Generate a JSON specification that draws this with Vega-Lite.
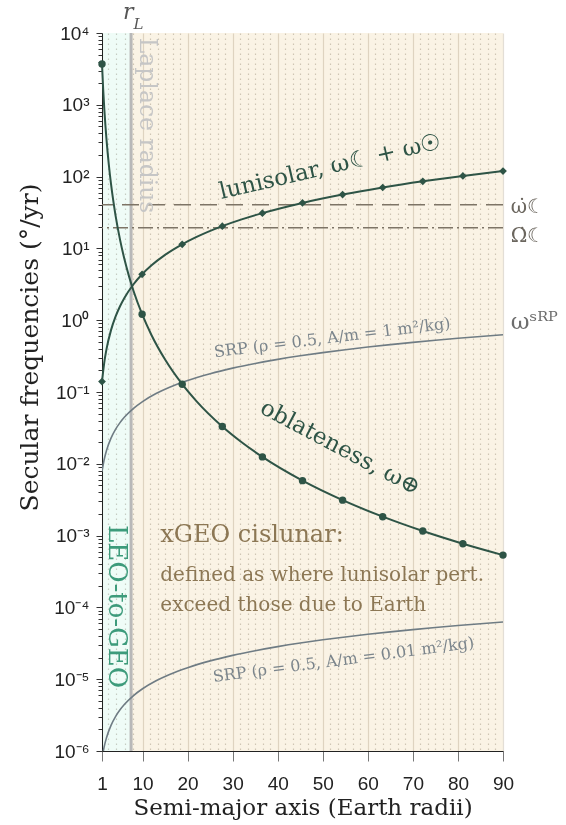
{
  "$schema": "https://vega.github.io/schema/vega-lite/v6.json",
  "width": 401,
  "height": 718,
  "autosize": {"type": "none"},
  "padding": {"left": 102, "top": 33, "right": 63, "bottom": 74},
  "background": "white",
  "config": {"view": {"stroke": null}, "font": "DejaVu Serif"},
  "datasets": {
    "regions": [
      {"a": 1, "a2": 7.45, "region": "LEO-to-GEO"},
      {"a": 7.45, "a2": 90, "region": "xGEO"}
    ],
    "obl": [
      {"a": 1, "f": 3700}, {"a": 1.25, "f": 1694}, {"a": 1.5, "f": 895}, {"a": 1.75, "f": 521.9},
      {"a": 2, "f": 327}, {"a": 2.5, "f": 149.8}, {"a": 3, "f": 79.1}, {"a": 3.5, "f": 46.13},
      {"a": 4, "f": 28.91}, {"a": 5, "f": 13.24}, {"a": 6, "f": 6.993}, {"a": 7, "f": 4.077},
      {"a": 8, "f": 2.555}, {"a": 9.9, "f": 1.212}, {"a": 12, "f": 0.6182}, {"a": 15, "f": 0.283},
      {"a": 18.8, "f": 0.1284}, {"a": 22, "f": 0.07409}, {"a": 27.7, "f": 0.03307}, {"a": 32, "f": 0.01996},
      {"a": 36.6, "f": 0.01247}, {"a": 45.5, "f": 0.005823}, {"a": 54.4, "f": 0.003116}, {"a": 63.3, "f": 0.001834},
      {"a": 72.2, "f": 0.001157}, {"a": 81.1, "f": 0.0007701}, {"a": 90, "f": 0.0005352}
    ],
    "oblm": [
      {"a": 1, "f": 3700}, {"a": 9.9, "f": 1.212}, {"a": 18.8, "f": 0.1284}, {"a": 27.7, "f": 0.03307},
      {"a": 36.6, "f": 0.01247}, {"a": 45.5, "f": 0.005823}, {"a": 54.4, "f": 0.003116}, {"a": 63.3, "f": 0.001834},
      {"a": 72.2, "f": 0.001157}, {"a": 81.1, "f": 0.0007701}, {"a": 90, "f": 0.0005352}
    ],
    "lun": [
      {"a": 1, "f": 0.14}, {"a": 1.5, "f": 0.2572}, {"a": 2, "f": 0.396}, {"a": 3, "f": 0.7273},
      {"a": 4, "f": 1.12}, {"a": 5, "f": 1.565}, {"a": 6, "f": 2.057}, {"a": 8, "f": 3.168},
      {"a": 9.9, "f": 4.361}, {"a": 12, "f": 5.821}, {"a": 15, "f": 8.133}, {"a": 18.8, "f": 11.41},
      {"a": 22, "f": 14.44}, {"a": 27.7, "f": 20.41}, {"a": 32, "f": 25.34}, {"a": 36.6, "f": 30.99},
      {"a": 45.5, "f": 42.97}, {"a": 54.4, "f": 56.17}, {"a": 63.3, "f": 70.5}, {"a": 72.2, "f": 85.9},
      {"a": 81.1, "f": 102.2}, {"a": 90, "f": 119.5}
    ],
    "lunm": [
      {"a": 1, "f": 0.14}, {"a": 9.9, "f": 4.361}, {"a": 18.8, "f": 11.41}, {"a": 27.7, "f": 20.41},
      {"a": 36.6, "f": 30.99}, {"a": 45.5, "f": 42.97}, {"a": 54.4, "f": 56.17}, {"a": 63.3, "f": 70.5},
      {"a": 72.2, "f": 85.9}, {"a": 81.1, "f": 102.2}, {"a": 90, "f": 119.5}
    ],
    "srp1": [
      {"a": 1, "f": 0.0078}, {"a": 1.5, "f": 0.01158}, {"a": 2, "f": 0.01533}, {"a": 3, "f": 0.02276},
      {"a": 4, "f": 0.03013}, {"a": 5, "f": 0.03746}, {"a": 6, "f": 0.04474}, {"a": 8, "f": 0.05923},
      {"a": 10, "f": 0.07362}, {"a": 13, "f": 0.09507}, {"a": 16, "f": 0.1164}, {"a": 20, "f": 0.1447},
      {"a": 25, "f": 0.1799}, {"a": 30, "f": 0.2149}, {"a": 35, "f": 0.2497}, {"a": 40, "f": 0.2844},
      {"a": 45, "f": 0.319}, {"a": 50, "f": 0.3535}, {"a": 55, "f": 0.388}, {"a": 60, "f": 0.4223},
      {"a": 65, "f": 0.4566}, {"a": 70, "f": 0.4909}, {"a": 75, "f": 0.5251}, {"a": 80, "f": 0.5593},
      {"a": 85, "f": 0.5932}, {"a": 90, "f": 0.627}
    ],
    "srp2": [
      {"a": 1, "f": 7.8e-7}, {"a": 1.5, "f": 1.158e-6}, {"a": 2, "f": 1.533e-6}, {"a": 3, "f": 2.276e-6},
      {"a": 4, "f": 3.013e-6}, {"a": 5, "f": 3.746e-6}, {"a": 6, "f": 4.474e-6}, {"a": 8, "f": 5.923e-6},
      {"a": 10, "f": 7.362e-6}, {"a": 13, "f": 9.507e-6}, {"a": 16, "f": 1.164e-5}, {"a": 20, "f": 1.447e-5},
      {"a": 25, "f": 1.799e-5}, {"a": 30, "f": 2.149e-5}, {"a": 35, "f": 2.497e-5}, {"a": 40, "f": 2.844e-5},
      {"a": 45, "f": 3.19e-5}, {"a": 50, "f": 3.535e-5}, {"a": 55, "f": 3.88e-5}, {"a": 60, "f": 4.223e-5},
      {"a": 65, "f": 4.566e-5}, {"a": 70, "f": 4.909e-5}, {"a": 75, "f": 5.251e-5}, {"a": 80, "f": 5.593e-5},
      {"a": 85, "f": 5.932e-5}, {"a": 90, "f": 6.27e-5}
    ]
  },
  "layer": [
    {
      "data": {"name": "regions"},
      "mark": {"type": "rect", "blend": "multiply"},
      "encoding": {
        "x": {
          "field": "a", "type": "quantitative",
          "scale": {"domain": [1, 90], "nice": false, "zero": false},
          "axis": {
            "title": "Semi-major axis (Earth radii)",
            "titleFont": "DejaVu Serif", "titleFontSize": 23, "titleFontWeight": "normal", "titleColor": "#222", "titlePadding": 3,
            "tickCount": 500,
            "values": [1, 2.33, 4.17, 6, 7.83, 10, 11.67, 13.33, 15, 16.67, 18.33, 20, 21.67, 23.33, 25, 26.67, 28.33, 30, 31.67, 33.33, 35, 36.67, 38.33, 40, 41.67, 43.33, 45, 46.67, 48.33, 50, 51.67, 53.33, 55, 56.67, 58.33, 60, 61.67, 63.33, 65, 66.67, 68.33, 70, 71.67, 73.33, 75, 76.67, 78.33, 80, 81.67, 83.33, 85, 86.67, 88.33, 90],
            "labelExpr": "(datum.value == 1 || abs(datum.value - 10*round(datum.value/10)) < 0.01) ? format(datum.value, 'd') : ''",
            "labelFont": "Liberation Sans", "labelFontSize": 19, "labelColor": "#222", "labelPadding": 13, "labelOverlap": false, "labelFlush": false,
            "domainColor": "#222", "domainWidth": 1,
            "tickColor": "#777", "tickWidth": 1,
            "tickSize": {"condition": {"test": "datum.value == 1 || abs(datum.value - 10*round(datum.value/10)) < 0.01", "value": 10}, "value": 0},
            "gridColor": {"condition": {"test": "datum.value == 1 || abs(datum.value - 10*round(datum.value/10)) < 0.01", "value": "#e3ded6"}, "value": "#d3cfc9"},
            "gridDash": {"condition": {"test": "datum.value == 1 || abs(datum.value - 10*round(datum.value/10)) < 0.01", "value": []}, "value": [1.5, 3.5]},
            "gridWidth": 1.2,
            "zindex": 0
          }
        },
        "x2": {"field": "a2"},
        "y": {
          "datum": 1e-6, "type": "quantitative",
          "scale": {"type": "log", "domain": [1e-6, 10000], "nice": false},
          "axis": {
            "title": "Secular frequencies (°/yr)",
            "titleFont": "DejaVu Serif", "titleFontSize": 25, "titleFontWeight": "normal", "titleColor": "#222",
            "titleX": -73, "titleY": 314, "titleAngle": -90, "titleAlign": "center", "titleBaseline": "middle",
            "tickCount": 500,
            "values": [1e-6, 2e-6, 3e-6, 4e-6, 5e-6, 6e-6, 7e-6, 8e-6, 9e-6,
                       1e-5, 2e-5, 3e-5, 4e-5, 5e-5, 6e-5, 7e-5, 8e-5, 9e-5,
                       1e-4, 2e-4, 3e-4, 4e-4, 5e-4, 6e-4, 7e-4, 8e-4, 9e-4,
                       0.001, 0.002, 0.003, 0.004, 0.005, 0.006, 0.007, 0.008, 0.009,
                       0.01, 0.02, 0.03, 0.04, 0.05, 0.06, 0.07, 0.08, 0.09,
                       0.1, 0.2, 0.3, 0.4, 0.5, 0.6, 0.7, 0.8, 0.9,
                       1, 2, 3, 4, 5, 6, 7, 8, 9,
                       10, 20, 30, 40, 50, 60, 70, 80, 90,
                       100, 200, 300, 400, 500, 600, 700, 800, 900,
                       1000, 2000, 3000, 4000, 5000, 6000, 7000, 8000, 9000, 10000],
            "labelExpr": "abs(log(datum.value)/LN10 - round(log(datum.value)/LN10)) < 0.001 ? '10' + (round(log(datum.value)/LN10) < 0 ? '⁻' : '') + ['⁰','¹','²','³','⁴','⁵','⁶','⁷','⁸','⁹'][abs(round(log(datum.value)/LN10))] : ''",
            "labelFont": "Liberation Sans", "labelFontSize": 19, "labelColor": "#222", "labelPadding": 7, "labelOverlap": false, "labelFlush": false,
            "domainColor": "#222", "domainWidth": 1,
            "tickColor": "#333", "tickWidth": 1,
            "tickSize": {"condition": {"test": "abs(log(datum.value)/LN10 - round(log(datum.value)/LN10)) < 0.001", "value": 6}, "value": 4},
            "gridColor": {"condition": {"test": "abs(log(datum.value)/LN10 - round(log(datum.value)/LN10)) < 0.001", "value": "#e3ded6"}, "value": "#cfcbc5"},
            "gridDash": {"condition": {"test": "abs(log(datum.value)/LN10 - round(log(datum.value)/LN10)) < 0.001", "value": []}, "value": [1.5, 3.5]},
            "gridWidth": 1.2,
            "zindex": 0
          }
        },
        "y2": {"datum": 10000},
        "fill": {
          "field": "region", "type": "nominal",
          "scale": {"domain": ["LEO-to-GEO", "xGEO"], "range": ["#effcf7", "#faf3e5"]},
          "legend": null
        }
      }
    },
    {
      "data": {"values": [{"a": 7.45}]},
      "mark": {"type": "rule", "color": "#b8b8b8", "strokeWidth": 3},
      "encoding": {"x": {"field": "a", "type": "quantitative"}}
    },
    {
      "data": {"values": [{"f": 40.7}]},
      "mark": {"type": "rule", "color": "#7d7466", "strokeWidth": 1.5, "strokeDash": [17, 9]},
      "encoding": {"y": {"field": "f", "type": "quantitative"}}
    },
    {
      "data": {"values": [{"f": 19.35}]},
      "mark": {"type": "rule", "color": "#7d7466", "strokeWidth": 1.5, "strokeDash": [15, 4, 2, 4]},
      "encoding": {"y": {"field": "f", "type": "quantitative"}}
    },
    {
      "data": {"name": "srp1"},
      "mark": {"type": "line", "color": "#6f7c84", "strokeWidth": 1.6, "interpolate": "monotone", "clip": true},
      "encoding": {"x": {"field": "a", "type": "quantitative"}, "y": {"field": "f", "type": "quantitative"}}
    },
    {
      "data": {"name": "srp2"},
      "mark": {"type": "line", "color": "#6f7c84", "strokeWidth": 1.6, "interpolate": "monotone", "clip": true},
      "encoding": {"x": {"field": "a", "type": "quantitative"}, "y": {"field": "f", "type": "quantitative"}}
    },
    {
      "data": {"name": "obl"},
      "mark": {"type": "line", "color": "#2e5446", "strokeWidth": 2, "interpolate": "monotone"},
      "encoding": {"x": {"field": "a", "type": "quantitative"}, "y": {"field": "f", "type": "quantitative"}}
    },
    {
      "data": {"name": "lun"},
      "mark": {"type": "line", "color": "#2e5446", "strokeWidth": 2, "interpolate": "monotone"},
      "encoding": {"x": {"field": "a", "type": "quantitative"}, "y": {"field": "f", "type": "quantitative"}}
    },
    {
      "data": {"name": "oblm"},
      "mark": {"type": "point", "shape": "circle", "filled": true, "size": 55, "color": "#2e5446", "opacity": 1},
      "encoding": {"x": {"field": "a", "type": "quantitative"}, "y": {"field": "f", "type": "quantitative"}}
    },
    {
      "data": {"name": "lunm"},
      "mark": {"type": "point", "shape": "diamond", "filled": true, "size": 60, "color": "#2e5446", "opacity": 1},
      "encoding": {"x": {"field": "a", "type": "quantitative"}, "y": {"field": "f", "type": "quantitative"}}
    },
    {
      "data": {"values": [{"a": 6.84, "f": 19800, "t": "r"}]},
      "mark": {"type": "text", "font": "DejaVu Serif", "fontStyle": "italic", "fontSize": 22, "color": "#555", "align": "center", "baseline": "middle"},
      "encoding": {"x": {"field": "a", "type": "quantitative"}, "y": {"field": "f", "type": "quantitative"}, "text": {"field": "t"}}
    },
    {
      "data": {"values": [{"a": 9.1, "f": 13500, "t": "L"}]},
      "mark": {"type": "text", "font": "DejaVu Serif", "fontStyle": "italic", "fontSize": 15, "color": "#555", "align": "center", "baseline": "middle"},
      "encoding": {"x": {"field": "a", "type": "quantitative"}, "y": {"field": "f", "type": "quantitative"}, "text": {"field": "t"}}
    },
    {
      "data": {"values": [{"a": 11.05, "f": 8600, "t": "Laplace radius"}]},
      "mark": {"type": "text", "font": "DejaVu Serif", "fontSize": 23.5, "color": "#c6c6c6", "angle": 90, "align": "left", "baseline": "middle"},
      "encoding": {"x": {"field": "a", "type": "quantitative"}, "y": {"field": "f", "type": "quantitative"}, "text": {"field": "t"}}
    },
    {
      "data": {"values": [{"a": 4.4, "f": 0.00141, "t": "LEO-to-GEO"}]},
      "mark": {"type": "text", "font": "DejaVu Serif", "fontSize": 26, "color": "#3d9b7b", "angle": 90, "align": "left", "baseline": "middle"},
      "encoding": {"x": {"field": "a", "type": "quantitative"}, "y": {"field": "f", "type": "quantitative"}, "text": {"field": "t"}}
    },
    {
      "data": {"values": [{"a": 51.7, "f": 138, "t": "lunisolar, ω☾ + ω☉"}]},
      "mark": {"type": "text", "font": "DejaVu Serif", "fontSize": 23, "color": "#2e5446", "angle": -13, "align": "center", "baseline": "middle"},
      "encoding": {"x": {"field": "a", "type": "quantitative"}, "y": {"field": "f", "type": "quantitative"}, "text": {"field": "t"}}
    },
    {
      "data": {"values": [{"a": 53.9, "f": 0.0168, "t": "oblateness, ω⊕"}]},
      "mark": {"type": "text", "font": "DejaVu Serif", "fontSize": 23, "color": "#2e5446", "angle": 28, "align": "center", "baseline": "middle"},
      "encoding": {"x": {"field": "a", "type": "quantitative"}, "y": {"field": "f", "type": "quantitative"}, "text": {"field": "t"}}
    },
    {
      "data": {"values": [{"a": 52.1, "f": 0.57, "t": "SRP (ρ = 0.5, A/m = 1 m²/kg)"}]},
      "mark": {"type": "text", "font": "DejaVu Serif", "fontSize": 16, "color": "#7b858c", "angle": -7, "align": "center", "baseline": "middle"},
      "encoding": {"x": {"field": "a", "type": "quantitative"}, "y": {"field": "f", "type": "quantitative"}, "text": {"field": "t"}}
    },
    {
      "data": {"values": [{"a": 54.6, "f": 1.86e-5, "t": "SRP (ρ = 0.5, A/m = 0.01 m²/kg)"}]},
      "mark": {"type": "text", "font": "DejaVu Serif", "fontSize": 16, "color": "#7b858c", "angle": -7.5, "align": "center", "baseline": "middle"},
      "encoding": {"x": {"field": "a", "type": "quantitative"}, "y": {"field": "f", "type": "quantitative"}, "text": {"field": "t"}}
    },
    {
      "data": {"values": [{"a": 91.7, "f": 0.95, "t": "ωˢᴿᴾ"}]},
      "mark": {"type": "text", "font": "DejaVu Serif", "fontSize": 23, "color": "#6d6d6d", "align": "left", "baseline": "middle"},
      "encoding": {"x": {"field": "a", "type": "quantitative"}, "y": {"field": "f", "type": "quantitative"}, "text": {"field": "t"}}
    },
    {
      "data": {"values": [{"a": 91.7, "f": 38, "t": "ω̇☾"}, {"a": 91.7, "f": 15.1, "t": "Ω̇☾"}]},
      "mark": {"type": "text", "font": "DejaVu Serif", "fontSize": 20, "color": "#6b665e", "align": "left", "baseline": "middle"},
      "encoding": {"x": {"field": "a", "type": "quantitative"}, "y": {"field": "f", "type": "quantitative"}, "text": {"field": "t"}}
    },
    {
      "data": {"values": [{"a": 13.94, "f": 0.00103, "t": "xGEO cislunar:"}]},
      "mark": {"type": "text", "font": "DejaVu Serif", "fontSize": 24, "color": "#8c7754", "align": "left", "baseline": "middle"},
      "encoding": {"x": {"field": "a", "type": "quantitative"}, "y": {"field": "f", "type": "quantitative"}, "text": {"field": "t"}}
    },
    {
      "data": {"values": [{"a": 13.94, "f": 0.000286, "t": "defined as where lunisolar pert."}, {"a": 13.94, "f": 0.000109, "t": "exceed those due to Earth"}]},
      "mark": {"type": "text", "font": "DejaVu Serif", "fontSize": 20, "color": "#8c7754", "align": "left", "baseline": "middle"},
      "encoding": {"x": {"field": "a", "type": "quantitative"}, "y": {"field": "f", "type": "quantitative"}, "text": {"field": "t"}}
    }
  ]
}
